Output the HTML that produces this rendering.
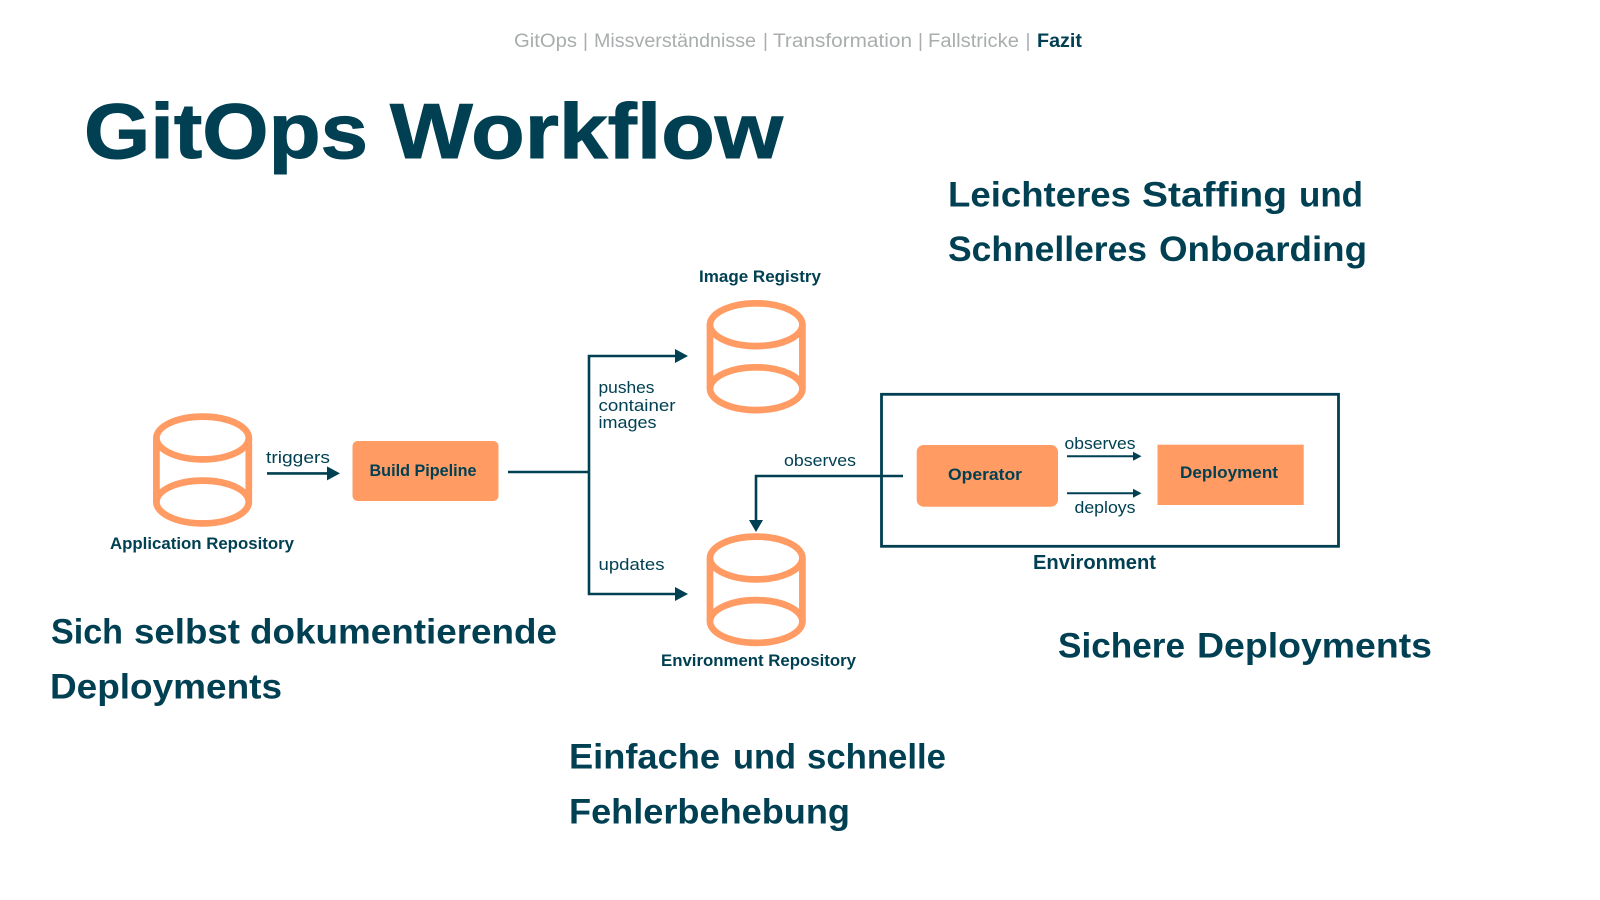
<!DOCTYPE html>
<html>
<head>
<meta charset="utf-8">
<style>
html,body{margin:0;padding:0;background:#fff;width:1600px;height:900px;overflow:hidden}
svg{display:block}
text{font-family:"Liberation Sans",sans-serif;fill:#004052}
.b{font-weight:bold}
.g{fill:#a9adae;font-size:19px}
.h{font-weight:bold;font-size:35px}
.l{font-weight:bold;font-size:17px}
.r{font-size:17px}
.c{fill:none;stroke:#FF9B63;stroke-width:6.7}
.w{fill:none;stroke:#004052;stroke-width:2.6}
.a{fill:#004052}
</style>
</head>
<body>
<svg width="1600" height="900" viewBox="0 0 1600 900" xmlns="http://www.w3.org/2000/svg">
<rect width="1600" height="900" fill="#fff"/>

<text x="514" y="47" class="g" textLength="63" lengthAdjust="spacingAndGlyphs">GitOps</text>
<text x="583" y="47" class="g">|</text>
<text x="594" y="47" class="g" textLength="162" lengthAdjust="spacingAndGlyphs">Missverständnisse</text>
<text x="763" y="47" class="g">|</text>
<text x="773" y="47" class="g" textLength="139" lengthAdjust="spacingAndGlyphs">Transformation</text>
<text x="918" y="47" class="g">|</text>
<text x="928" y="47" class="g" textLength="91" lengthAdjust="spacingAndGlyphs">Fallstricke</text>
<text x="1025.5" y="47" class="g">|</text>
<text x="1037" y="47" font-size="19" class="b" textLength="45" lengthAdjust="spacingAndGlyphs">Fazit</text>

<g style="stroke:#004052;stroke-width:1">
<text x="84" y="158" font-size="78" class="b" textLength="284" lengthAdjust="spacingAndGlyphs">GitOps</text>
<text x="390" y="158" font-size="78" class="b" textLength="393" lengthAdjust="spacingAndGlyphs">Workflow</text>
</g>

<text x="948" y="206.5" class="h" textLength="183" lengthAdjust="spacingAndGlyphs">Leichteres</text>
<text x="1142" y="206.5" class="h" textLength="145" lengthAdjust="spacingAndGlyphs">Staffing</text>
<text x="1299" y="206.5" class="h" textLength="64" lengthAdjust="spacingAndGlyphs">und</text>
<text x="948" y="261" class="h" textLength="199" lengthAdjust="spacingAndGlyphs">Schnelleres</text>
<text x="1159" y="261" class="h" textLength="208" lengthAdjust="spacingAndGlyphs">Onboarding</text>

<text x="51" y="643.5" class="h" textLength="72" lengthAdjust="spacingAndGlyphs">Sich</text>
<text x="134" y="643.5" class="h" textLength="106" lengthAdjust="spacingAndGlyphs">selbst</text>
<text x="250" y="643.5" class="h" textLength="307" lengthAdjust="spacingAndGlyphs">dokumentierende</text>
<text x="50" y="698.5" class="h" textLength="232" lengthAdjust="spacingAndGlyphs">Deployments</text>

<text x="1058" y="657.5" class="h" textLength="127" lengthAdjust="spacingAndGlyphs">Sichere</text>
<text x="1197" y="657.5" class="h" textLength="235" lengthAdjust="spacingAndGlyphs">Deployments</text>

<text x="569" y="768.5" class="h" textLength="151" lengthAdjust="spacingAndGlyphs">Einfache</text>
<text x="733" y="768.5" class="h" textLength="63" lengthAdjust="spacingAndGlyphs">und</text>
<text x="807" y="768.5" class="h" textLength="139" lengthAdjust="spacingAndGlyphs">schnelle</text>
<text x="569" y="823.5" class="h" textLength="281" lengthAdjust="spacingAndGlyphs">Fehlerbehebung</text>

<!-- Cylinder: Application Repository -->
<g class="c">
<ellipse cx="202.6" cy="438" rx="46.2" ry="21.4"/>
<ellipse cx="202.6" cy="502" rx="46.2" ry="21.4"/>
<path d="M156.4 438V502M248.8 438V502"/>
</g>
<!-- Cylinder: Image Registry -->
<g class="c">
<ellipse cx="756.2" cy="324.7" rx="46.2" ry="21.4"/>
<ellipse cx="756.2" cy="388.7" rx="46.2" ry="21.4"/>
<path d="M710 324.7V388.7M802.4 324.7V388.7"/>
</g>
<!-- Cylinder: Environment Repository -->
<g class="c">
<ellipse cx="756.2" cy="558" rx="46.2" ry="21.4"/>
<ellipse cx="756.2" cy="621.5" rx="46.2" ry="21.4"/>
<path d="M710 558V621.5M802.4 558V621.5"/>
</g>

<text x="110" y="549" class="l" textLength="184" lengthAdjust="spacingAndGlyphs">Application Repository</text>
<text x="699" y="282" class="l" textLength="122" lengthAdjust="spacingAndGlyphs">Image Registry</text>
<text x="661" y="666" class="l" textLength="195" lengthAdjust="spacingAndGlyphs">Environment Repository</text>

<!-- Build pipeline -->
<rect x="352.5" y="441" width="146" height="60" rx="5" fill="#FF9B63"/>
<text x="369.5" y="476" class="l" textLength="107" lengthAdjust="spacingAndGlyphs">Build Pipeline</text>

<!-- triggers -->
<path class="w" d="M267 473.4H328"/>
<path class="a" d="M327 466.4L340 473.4L327 480.4Z"/>
<text x="266" y="463" class="r" textLength="64" lengthAdjust="spacingAndGlyphs">triggers</text>

<!-- branch -->
<path class="w" d="M508 472H589"/>
<path class="w" d="M676 356H589V594H676"/>
<path class="a" d="M675 349L688 356L675 363Z"/>
<path class="a" d="M675 587L688 594L675 601Z"/>
<text x="598.5" y="393" class="r" textLength="56" lengthAdjust="spacingAndGlyphs">pushes</text>
<text x="598.5" y="411" class="r" textLength="77" lengthAdjust="spacingAndGlyphs">container</text>
<text x="598.5" y="428" class="r" textLength="58" lengthAdjust="spacingAndGlyphs">images</text>
<text x="598.5" y="570" class="r" textLength="66" lengthAdjust="spacingAndGlyphs">updates</text>

<!-- environment box -->
<rect x="881.5" y="394.3" width="457" height="152" fill="none" stroke="#004052" stroke-width="2.8"/>
<text x="1033" y="569" font-size="20" class="b" textLength="123" lengthAdjust="spacingAndGlyphs">Environment</text>

<!-- observes outer -->
<path class="w" d="M903 476H756V521"/>
<path class="a" d="M749 520L756 532L763 520Z"/>
<text x="784" y="466" class="r" textLength="72" lengthAdjust="spacingAndGlyphs">observes</text>

<!-- Operator & Deployment -->
<rect x="916.7" y="445" width="141.3" height="61.7" rx="7" fill="#FF9B63"/>
<text x="948" y="480" class="l" textLength="74" lengthAdjust="spacingAndGlyphs">Operator</text>
<rect x="1157.5" y="444.7" width="146.2" height="60.3" fill="#FF9B63"/>
<text x="1180" y="478" class="l" textLength="98" lengthAdjust="spacingAndGlyphs">Deployment</text>

<path d="M1067 456.3H1134M1067 493.3H1134" fill="none" stroke="#004052" stroke-width="2"/>
<path class="a" d="M1133 451.8L1141.5 456.3L1133 460.8Z"/>
<path class="a" d="M1133 488.8L1141.5 493.3L1133 497.8Z"/>
<text x="1064.5" y="449" class="r" textLength="71" lengthAdjust="spacingAndGlyphs">observes</text>
<text x="1074.5" y="513" class="r" textLength="61" lengthAdjust="spacingAndGlyphs">deploys</text>
</svg>
</body>
</html>
